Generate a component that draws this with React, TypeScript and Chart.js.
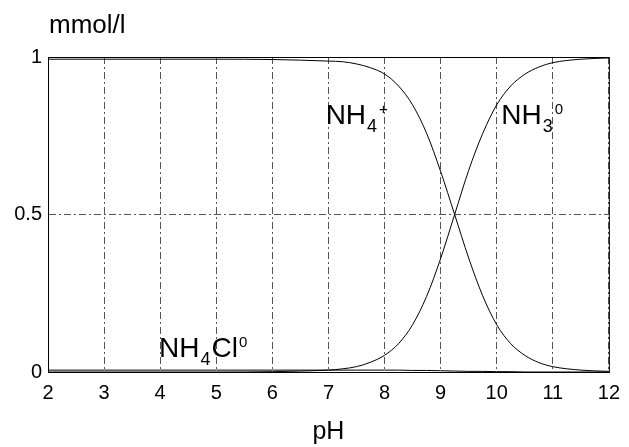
import React, { useEffect, useRef } from "react";
import { Chart, registerables } from "chart.js";
Chart.register(...registerables);

const pH = [2, 3, 4, 5, 6, 6.5, 7, 7.25, 7.5, 7.75, 8, 8.25, 8.5, 8.75, 9, 9.25, 9.5, 9.75, 10, 10.25, 10.5, 10.75, 11, 11.5, 12];
const nh4 = [0.993, 0.993, 0.993, 0.993, 0.992, 0.99, 0.987, 0.985, 0.978, 0.966, 0.946, 0.908, 0.848, 0.758, 0.637, 0.5, 0.362, 0.242, 0.15, 0.09, 0.053, 0.03, 0.017, 0.006, 0.002];
const nh3 = [0, 0, 0, 0, 0.001, 0.003, 0.006, 0.01, 0.017, 0.031, 0.053, 0.09, 0.15, 0.24, 0.36, 0.5, 0.64, 0.757, 0.848, 0.908, 0.945, 0.968, 0.982, 0.993, 0.997];
const nh4cl = [0.006, 0.006, 0.006, 0.006, 0.006, 0.006, 0.006, 0.006, 0.006, 0.006, 0.006, 0.006, 0.005, 0.005, 0.004, 0.003, 0.002, 0.002, 0.001, 0.001, 0, 0, 0, 0, 0];
const xTicks = [2, 3, 4, 5, 6, 7, 8, 9, 10, 11, 12];
const yTicks = [0, 0.5, 1];

type Part = { t: string; k: "n" | "sub" | "sup" };
const speciesLabels: { parts: Part[]; x: number; y: number }[] = [
  { parts: [{ t: "NH", k: "n" }, { t: "4", k: "sub" }, { t: "+", k: "sup" }], x: 6.95, y: 0.788 },
  { parts: [{ t: "NH", k: "n" }, { t: "3", k: "sub" }, { t: "0", k: "sup" }], x: 10.08, y: 0.788 },
  { parts: [{ t: "NH", k: "n" }, { t: "4", k: "sub" }, { t: "Cl", k: "n" }, { t: "0", k: "sup" }], x: 3.98, y: 0.048 },
];

const FONT = "'Liberation Sans', Arial, sans-serif";

const annotPlugin = {
  id: "annot",
  afterDatasetsDraw(chart: any) {
    const { ctx, chartArea, scales } = chart;
    ctx.save();
    ctx.strokeStyle = "#000";
    ctx.lineWidth = 1;
    ctx.strokeRect(chartArea.left + 0.5, chartArea.top + 0.5, chartArea.right - chartArea.left, chartArea.bottom - chartArea.top);
    ctx.fillStyle = "#000";
    ctx.textBaseline = "alphabetic";
    ctx.textAlign = "left";
    for (const lab of speciesLabels) {
      let x = scales.x.getPixelForValue(lab.x);
      const y = scales.y.getPixelForValue(lab.y);
      for (const p of lab.parts) {
        if (p.k === "n") {
          ctx.font = `28px ${FONT}`;
          ctx.fillText(p.t, x, y);
          x += ctx.measureText(p.t).width;
        } else if (p.k === "sub") {
          ctx.font = `18px ${FONT}`;
          ctx.fillText(p.t, x + 1, y + 8);
          x += ctx.measureText(p.t).width + 2;
        } else {
          ctx.font = `15px ${FONT}`;
          ctx.fillText(p.t, x + 1, y - 10);
          x += ctx.measureText(p.t).width + 1;
        }
      }
    }
    ctx.font = `26px ${FONT}`;
    ctx.fillText("mmol/l", chartArea.left + 1, 33);
    ctx.restore();
  },
};

export default function App() {
  const ref = useRef<HTMLCanvasElement>(null);
  useEffect(() => {
    document.body.style.margin = "0";
    const mk = (d: number[]) => pH.map((x, i) => ({ x, y: d[i] }));
    const ds = (d: number[]) => ({
      data: mk(d),
      borderColor: "#000",
      borderWidth: 1,
      pointRadius: 0,
      fill: false,
      cubicInterpolationMode: "monotone" as const,
    });
    const gridDash = [7, 3, 2, 3];
    const chart = new Chart(ref.current!, {
      type: "line",
      data: { datasets: [ds(nh4), ds(nh3), ds(nh4cl)] },
      options: {
        animation: false,
        responsive: false,
        events: [],
        layout: { padding: { top: 57, right: 16, left: 0, bottom: 0 } },
        plugins: { legend: { display: false }, tooltip: { enabled: false } },
        scales: {
          x: {
            type: "linear",
            min: 2,
            max: 12,
            afterBuildTicks: (s: any) => { s.ticks = xTicks.map((v) => ({ value: v })); },
            afterFit: (s: any) => { s.height = 75; },
            grid: { color: "#555", lineWidth: 1, drawTicks: false },
            border: { display: true, color: "#000", dash: gridDash },
            ticks: { color: "#000", font: { family: FONT, size: 20 }, padding: 9, maxRotation: 0 },
            title: { display: true, text: "pH", color: "#000", font: { family: FONT, size: 25 }, padding: { top: 4, bottom: 0 } },
          },
          y: {
            type: "linear",
            min: 0,
            max: 1,
            afterBuildTicks: (s: any) => { s.ticks = yTicks.map((v) => ({ value: v })); },
            afterFit: (s: any) => { s.width = 48; },
            grid: { color: "#555", lineWidth: 1, drawTicks: false },
            border: { display: true, color: "#000", dash: gridDash },
            ticks: { color: "#000", font: { family: FONT, size: 20 }, padding: 6, callback: (v: any) => String(v) },
          },
        },
      } as any,
      plugins: [annotPlugin],
    });
    return () => chart.destroy();
  }, []);
  return <canvas ref={ref} width={629} height={447} style={{ display: "block" }} />;
}
